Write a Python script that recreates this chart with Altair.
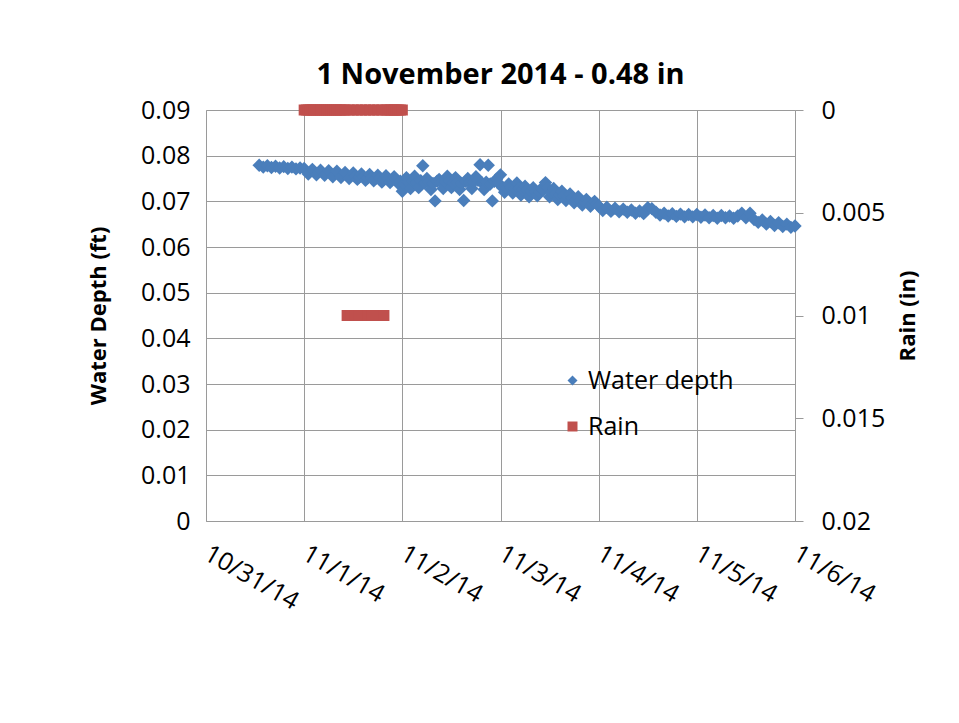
import json
import altair as alt
import pandas as pd

# ---------------- data ----------------
TITLE = "1 November 2014 - 0.48 in"
X_TICK_LABELS = ["10/31/14", "11/1/14", "11/2/14", "11/3/14", "11/4/14", "11/5/14", "11/6/14"]
LEFT_TICKS = [0, 0.01, 0.02, 0.03, 0.04, 0.05, 0.06, 0.07, 0.08, 0.09]
RIGHT_TICKS = [0, 0.005, 0.01, 0.015, 0.02]
SERIES = ["Water depth", "Rain"]
COLORS = ["#4A7EBB", "#C0504D"]
# square-ish diamond (Excel style) and square
SHAPES = ["M0,-1L1,0L0,1L-1,0Z", "square"]

# water depth (ft), hourly readings on the hour starting 10/31/14 13:00
depth_1031 = [0.0779, 0.0775, 0.0778, 0.0774, 0.0777, 0.0773, 0.0776, 0.0772, 0.0775, 0.0771, 0.0773]
depth_1101 = [0.0772, 0.0760, 0.0770, 0.0758, 0.0768, 0.0757, 0.0767, 0.0754, 0.0766, 0.0752, 0.0763, 0.0750,
              0.0762, 0.0748, 0.0760, 0.0746, 0.0759, 0.0745, 0.0757, 0.0742, 0.0756, 0.0741, 0.0754, 0.0739]
depth_1102 = [0.0722, 0.0752, 0.0728, 0.0755, 0.0730, 0.0778, 0.0750, 0.0726, 0.0701, 0.0748, 0.0728, 0.0755,
              0.0730, 0.0752, 0.0726, 0.0702, 0.0750, 0.0728, 0.0754, 0.0780, 0.0726, 0.0779, 0.0701, 0.0748]
depth_1103 = [0.0758, 0.0720, 0.0738, 0.0718, 0.0740, 0.0714, 0.0733, 0.0710, 0.0730, 0.0712, 0.0728, 0.0741,
              0.0710, 0.0728, 0.0704, 0.0722, 0.0702, 0.0716, 0.0697, 0.0710, 0.0692, 0.0704, 0.0689, 0.0700]
depth_1104 = [0.0690, 0.0680, 0.0687, 0.0678, 0.0685, 0.0677, 0.0683, 0.0676, 0.0681, 0.0674, 0.0679, 0.0673,
              0.0686, 0.0684, 0.0676, 0.0670, 0.0674, 0.0668, 0.0673, 0.0667, 0.0672, 0.0666, 0.0671, 0.0666]
depth_1105 = [0.0671, 0.0665, 0.0670, 0.0664, 0.0669, 0.0663, 0.0669, 0.0664, 0.0668, 0.0663, 0.0668, 0.0674,
              0.0664, 0.0674, 0.0660, 0.0654, 0.0659, 0.0650, 0.0656, 0.0647, 0.0653, 0.0645, 0.0650, 0.0643]
depth_1106 = [0.0646]
depth_start = "2014-10-31 13:00"
depth_ft = depth_1031 + depth_1101 + depth_1102 + depth_1103 + depth_1104 + depth_1105 + depth_1106

# extra half-hour readings (hourly at :30) starting 11/1/14 12:30, the noisy stretch
half_1101 = [0.0755, 0.0753, 0.0754, 0.0751, 0.0752, 0.0750, 0.0751, 0.0748, 0.0749, 0.0747, 0.0748, 0.0744]
half_1102 = [0.0738, 0.0742, 0.0744, 0.0741, 0.0745, 0.0740, 0.0743, 0.0739, 0.0744, 0.0741, 0.0743, 0.0745,
             0.0740, 0.0742, 0.0739, 0.0744, 0.0741, 0.0743, 0.0746, 0.0740, 0.0742, 0.0738, 0.0744, 0.0740]
half_1103 = [0.0730, 0.0729, 0.0730, 0.0728, 0.0729, 0.0726, 0.0724, 0.0722, 0.0721, 0.0721, 0.0725, 0.0730,
             0.0720, 0.0717, 0.0714, 0.0713, 0.0710, 0.0707, 0.0704, 0.0702, 0.0699, 0.0697, 0.0695, 0.0694]
half_start = "2014-11-01 12:30"
half_ft = half_1101 + half_1102 + half_1103

# rain (in), half-hourly readings starting 11/1/14 00:00
rain_start = "2014-11-01 00:00"
rain_in = [0, 0, 0, 0, 0, 0, 0, 0, 0, 0, 0, 0, 0, 0, 0, 0, 0, 0, 0, 0, 0,
           0.01, 0, 0.01, 0, 0.01, 0, 0.01, 0, 0.01, 0, 0.01, 0, 0.01, 0, 0.01, 0, 0.01, 0, 0.01,
           0, 0, 0, 0, 0, 0, 0, 0, 0]

# ---------------- tables ----------------
origin = pd.Timestamp("2014-10-31 00:00")
day = pd.Timedelta(days=1)
depth_time = pd.date_range(depth_start, periods=len(depth_ft), freq="1h")
half_time = pd.date_range(half_start, periods=len(half_ft), freq="1h")
rain_time = pd.date_range(rain_start, periods=len(rain_in), freq="30min")
depth_df = pd.concat([
    pd.DataFrame({"day": (depth_time - origin) / day, "value": depth_ft}),
    pd.DataFrame({"day": (half_time - origin) / day, "value": half_ft}),
]).sort_values("day")
depth_df["series"] = SERIES[0]
rain_df = pd.DataFrame({"day": (rain_time - origin) / day, "value": rain_in, "series": SERIES[1]})

# ---------------- style ----------------
FONT = "Open Sans"
GRID = "#9a9a9a"
LABEL_SIZE = 25
TITLE_SIZE = 22
W, H = 589, 411

legend = alt.Legend(orient="none", legendX=354, legendY=258, title=None,
                    labelFont=FONT, labelFontSize=LABEL_SIZE, labelColor="black",
                    symbolSize=100, symbolStrokeWidth=0, rowPadding=20,
                    labelOffset=3, padding=0)
color = alt.Color("series:N", scale=alt.Scale(domain=SERIES, range=COLORS), legend=legend)
shape = alt.Shape("series:N", scale=alt.Scale(domain=SERIES, range=SHAPES), legend=legend)

x = alt.X("day:Q",
          scale=alt.Scale(domain=[0, 6], nice=False, zero=False),
          axis=alt.Axis(values=list(range(len(X_TICK_LABELS))),
                        labelExpr=json.dumps(X_TICK_LABELS) + "[datum.value]",
                        title=None, grid=True, ticks=False,
                        labelAngle=30, labelAlign="left", labelBaseline="middle",
                        labelPadding=30, labelOverlap=False, labelFlush=False, labelBound=False))

depth = alt.Chart(depth_df).mark_point(filled=True, size=180, opacity=1, strokeWidth=0).encode(
    x=x,
    y=alt.Y("value:Q",
            scale=alt.Scale(domain=[0, 0.09], nice=False, zero=True),
            axis=alt.Axis(values=LEFT_TICKS, format="~g", title="Water Depth (ft)",
                          grid=True, ticks=False, labelPadding=16,
                          titleX=-108, titleY=H / 2, titleAngle=-90,
                          titleBaseline="middle", titleAlign="center")),
    color=color, shape=shape,
)

rain = alt.Chart(rain_df).mark_point(filled=True, size=121, opacity=1, strokeWidth=0).encode(
    x=x,
    y=alt.Y("value:Q",
            scale=alt.Scale(domain=[0, 0.02], nice=False, reverse=True),
            axis=alt.Axis(orient="right", values=RIGHT_TICKS, format="~g", title="Rain (in)",
                          grid=False, ticks=True, tickSize=8, tickColor=GRID, labelPadding=18,
                          titleX=112, titleY=H / 2, titleAngle=-90,
                          titleBaseline="middle", titleAlign="center")),
    color=color, shape=shape,
)

chart = alt.layer(depth, rain).resolve_scale(y="independent").properties(
    width=W, height=H,
    padding={"left": 206, "top": 110, "right": 164, "bottom": 202},
    autosize=alt.AutoSizeParams(type="none"),
    background="white",
    title=alt.TitleParams(TITLE, font=FONT, fontSize=29, fontWeight="bold", color="black",
                          anchor="middle", frame="group", baseline="alphabetic",
                          offset=27, dy=42),
).configure_axis(
    labelFont=FONT, labelFontSize=LABEL_SIZE, labelColor="black",
    titleFont=FONT, titleFontSize=TITLE_SIZE, titleFontWeight="bold", titleColor="black",
    domainColor=GRID, gridColor=GRID, gridOpacity=1, domainWidth=1, gridWidth=1,
).configure_view(stroke=None)

chart.save("out.html", embed_options={"renderer": "svg", "actions": False})
